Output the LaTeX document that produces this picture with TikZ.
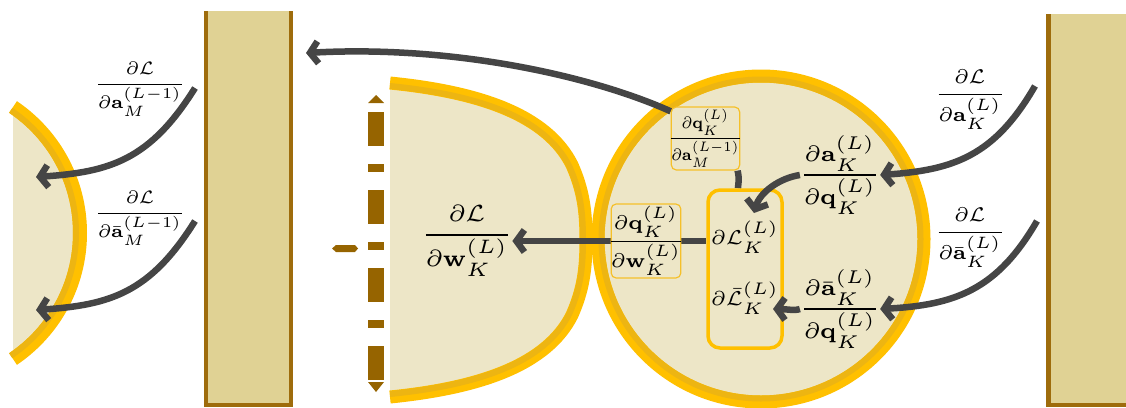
\documentclass[tikz,border=0pt]{standalone}
\usepackage{amsmath}
\usepackage{graphicx}
\usetikzlibrary{arrows.meta}
\definecolor{cream}{HTML}{EDE6C7}
\definecolor{rectfill}{HTML}{E0D294}
\definecolor{rectbrd}{HTML}{9E6C0C}
\definecolor{ybright}{HTML}{FFC000}
\definecolor{ydark}{HTML}{EDB512}
\definecolor{agray}{HTML}{454545}
\definecolor{dbrown}{HTML}{966400}
\definecolor{boxy}{HTML}{F5C02A}
\newcommand\sz[2]{\scalebox{#1}{\fontsize{6}{7}\selectfont\nulldelimiterspace=0pt #2}}
\newcommand\szhv[3]{\scalebox{#1}[#2]{\fontsize{6}{7}\selectfont\nulldelimiterspace=0pt #3}}
\pgfdeclarelayer{back}
\pgfdeclarelayer{edges}
\pgfsetlayers{back,edges,main}
\tikzset{
  arr/.style={draw=agray, line width=6.5pt, -{Straight Barb[length=8pt,width=22pt]}},
  conn/.style={draw=agray, line width=6.5pt},
  fbox/.style={draw=boxy, line width=1.2pt, fill=cream, rounded corners=5pt, inner sep=0pt},
  lbl/.style={inner sep=0pt},
}
\begin{document}
\begin{tikzpicture}[x=1pt,y=-1pt]
\useasboundingbox (0,0) rectangle (1126,407);
\begin{pgfonlayer}{back}
  % left rectangle
  \fill[rectfill] (204,11) rectangle (293,407);
  \draw[rectbrd, line width=3.5pt] (206,11) -- (206,405) -- (291,405) -- (291,11);
  % right rectangle
  \fill[rectfill] (1046,14) rectangle (1126,407);
  \draw[rectbrd, line width=4.5pt] (1048.5,14) -- (1048.5,405) -- (1126,405);
  % left arc
  \begin{scope}
    \clip (13,0) rectangle (200,407);
    \fill[cream] (-72,233) circle (152);
  \end{scope}
  \begin{scope}
    \clip (-72,233) -- (96,-16) -- (300,233) -- (96,482) -- cycle;
    \draw[ybright, line width=14pt] (-72,233) circle (152);
    \draw[ydark, line width=6pt] (-72,233) circle (148);
  \end{scope}
  % lens
  \fill[cream] (390,83) .. controls (480,92) and (547,115) .. (572,165) .. controls (583,190) and (586,210) .. (586,240)
     .. controls (586,270) and (583,290) .. (572,315) .. controls (547,365) and (480,388) .. (390,397) -- cycle;
  \draw[ybright, line width=13pt] (390,83) .. controls (480,92) and (547,115) .. (572,165) .. controls (583,190) and (586,210) .. (586,240)
     .. controls (586,270) and (583,290) .. (572,315) .. controls (547,365) and (480,388) .. (390,397);
  \begin{scope}
    \clip (390,83) .. controls (480,92) and (547,115) .. (572,165) .. controls (583,190) and (586,210) .. (586,240)
     .. controls (586,270) and (583,290) .. (572,315) .. controls (547,365) and (480,388) .. (390,397) -- cycle;
    \draw[ydark, line width=12pt] (390,83) .. controls (480,92) and (547,115) .. (572,165) .. controls (583,190) and (586,210) .. (586,240)
     .. controls (586,270) and (583,290) .. (572,315) .. controls (547,365) and (480,388) .. (390,397);
  \end{scope}
  % circle
  \fill[cream] (761,239) circle (163);
  \draw[ybright, line width=13pt] (761,239) circle (163);
  \draw[ydark, line width=6pt] (761,239) circle (159.5);
  % dash-dot axis
  \draw[dbrown, line width=16pt, dash pattern=on 34pt off 18pt on 8pt off 18pt] (376,112) -- (376,382);
  \fill[dbrown] (368,103) -- (384,103) -- (376,95) -- cycle;
  \fill[dbrown] (368,382) -- (384,382) -- (376,392) -- cycle;
  \fill[dbrown] (332,248.5) -- (336,245) -- (355,245) -- (358,248.5) -- (355,252) -- (336,252) -- cycle;
\end{pgfonlayer}

% nodes
\node[fbox, minimum width=67pt, minimum height=63pt] (qa) at (705.5,138.5)
  {\szhv{2.45}{2.75}{$\dfrac{\partial\mathbf q_K^{(L)}}{\partial\mathbf a_M^{(L-1)}}$}};
\node[fbox, minimum width=66pt, minimum height=74pt] (qw) at (646,241)
  {\sz{3.3}{$\dfrac{\partial\mathbf q_K^{(L)}}{\partial\mathbf w_K^{(L)}}$}};
\node[draw=ybright, fill=cream, line width=3.5pt, rounded corners=12pt, minimum width=74pt, minimum height=158pt] (Lbox) at (745,269) {};
\node[lbl] (L1) at (745,237) {\sz{3.35}{$\partial\mathcal L_K^{(L)}$}};
\node[lbl] (L2) at (745,298) {\sz{3.35}{$\partial\bar{\mathcal L}_K^{(L)}$}};
\node[lbl] (daq) at (840,175) {\sz{3.7}{$\dfrac{\partial\mathbf a_K^{(L)}}{\partial\mathbf q_K^{(L)}}$}};
\node[lbl] (dabq) at (840,309) {\sz{3.7}{$\dfrac{\partial\bar{\mathbf a}_K^{(L)}}{\partial\mathbf q_K^{(L)}}$}};
\node[lbl] (dw) at (467,241) {\sz{3.9}{$\dfrac{\partial\mathcal L}{\partial\mathbf w_K^{(L)}}$}};
\node[lbl] (ra) at (970,100) {\sz{3.3}{$\dfrac{\partial\mathcal L}{\partial\mathbf a_K^{(L)}}$}};
\node[lbl] (rab) at (970,238) {\sz{3.3}{$\dfrac{\partial\mathcal L}{\partial\bar{\mathbf a}_K^{(L)}}$}};
\node[lbl] (la) at (140,89) {\sz{3.0}{$\dfrac{\partial\mathcal L}{\partial\mathbf a_M^{(L-1)}}$}};
\node[lbl] (lab) at (140,218) {\sz{3.0}{$\dfrac{\partial\mathcal L}{\partial\bar{\mathbf a}_M^{(L-1)}}$}};

\coordinate (ls1) at (195,88);
\coordinate (le1) at (36,177);
\coordinate (ls2) at (195,221);
\coordinate (le2) at (36,310);
\coordinate (rs1) at (1035,86);
\coordinate (rs2) at (1037,221);
\coordinate (topend) at (306,53);
\coordinate (t5) at (754,213);
\coordinate (t6) at (773,309);

\begin{pgfonlayer}{edges}
  \draw[arr] (qa.142) .. controls (590,75) and (450,45) .. (topend);
  \draw[conn] (qa.-45) .. controls (739,178) .. (Lbox.95);
  \draw[conn] (qw.east) -- (qw.east -| Lbox.west);
  \draw[arr] (qw.west) -- ([xshift=4pt]dw.east);
  \draw[arr] (ls1) .. controls (150,160) and (110,172) .. (le1);
  \draw[arr] (ls2) .. controls (150,293) and (110,305) .. (le2);
  \draw[arr] (rs1) .. controls (995,155) and (955,170) .. ([xshift=4pt]daq.east);
  \draw[arr] (rs2) .. controls (997,290) and (955,305) .. ([xshift=4pt]dabq.east);
\end{pgfonlayer}
\draw[arr] ([xshift=-4pt]daq.west) .. controls (780,178) and (760,192) .. (t5);
\draw[arr] ([xshift=-4pt]dabq.west) .. controls (795,311) and (785,309) .. (t6);
\end{tikzpicture}
\end{document}
